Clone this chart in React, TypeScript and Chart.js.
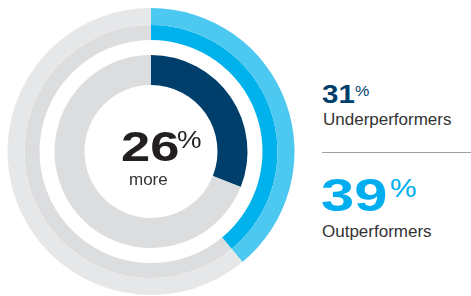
import React, { useEffect, useRef } from "react";
import { Chart, registerables } from "chart.js";

Chart.register(...registerables);

// Data
const outerLabels = ["Outperformers", "Rest"];
const outerValues = [39, 61];
const innerLabels = ["Underperformers", "Rest"];
const innerValues = [31, 69];
const gapValues = [100];
const centerValue = "26";
const centerCaption = "more";
const underValue = "31";
const underLabel = "Underperformers";
const outValue = "39";
const outLabel = "Outperformers";

const FONT = '"Liberation Sans", Arial, Helvetica, sans-serif';

type TProps = {
  text: string;
  left: number;
  baseline: number;
  fs: number;
  color: string;
  bold?: boolean;
  sx?: number;
};

function T({ text, left, baseline, fs, color, bold, sx = 1 }: TProps) {
  return (
    <div
      style={{
        position: "absolute",
        left,
        top: baseline - 0.8465 * fs,
        fontFamily: FONT,
        fontSize: fs,
        lineHeight: 1,
        fontWeight: bold ? 700 : 400,
        color,
        whiteSpace: "nowrap",
        transform: `scaleX(${sx})`,
        transformOrigin: "left top",
      }}
    >
      {text}
    </div>
  );
}

export default function App() {
  const ref = useRef<HTMLCanvasElement | null>(null);

  useEffect(() => {
    if (!ref.current) return;
    const chart = new Chart(ref.current, {
      type: "doughnut",
      data: {
        labels: outerLabels,
        datasets: [
          {
            label: "outer band",
            data: outerValues,
            backgroundColor: ["#4DC8F1", "#E6E7E8"],
            borderWidth: 0,
            weight: 17,
          },
          {
            label: "inner band",
            data: outerValues,
            backgroundColor: ["#00B2EC", "#DCDDDF"],
            borderWidth: 0,
            weight: 15,
          },
          {
            label: "gap",
            data: gapValues,
            backgroundColor: ["rgba(0,0,0,0)"],
            borderWidth: 0,
            weight: 15,
          },
          {
            label: innerLabels[0],
            data: innerValues,
            backgroundColor: ["#003F6B", "#DCDDDF"],
            borderWidth: 0,
            weight: 30,
          },
        ],
      },
      options: {
        responsive: false,
        animation: false,
        events: [],
        radius: 143.5,
        cutout: "46.34%",
        layout: { padding: 0 },
        plugins: {
          legend: { display: false },
          tooltip: { enabled: false },
        },
      },
    });
    return () => chart.destroy();
  }, []);

  return (
    <div
      style={{
        position: "absolute",
        left: 0,
        top: 0,
        width: 471,
        height: 296,
        overflow: "hidden",
        background: "#fff",
      }}
    >
      <canvas
        ref={ref}
        width={302}
        height={303}
        style={{ position: "absolute", left: 0, top: 0, width: 302, height: 303 }}
      />
      <T text={centerValue} left={120.5} baseline={161.5} fs={42} color="#231F20" bold sx={1.25} />
      <T text="%" left={176.5} baseline={148.5} fs={24} color="#231F20" sx={1.15} />
      <T text={centerCaption} left={129} baseline={185} fs={17} color="#333333" />

      <T text={underValue} left={322} baseline={103} fs={25} color="#003F6B" bold sx={1.18} />
      <T text="%" left={355} baseline={95.5} fs={14} color="#003F6B" sx={1.15} />
      <T text={underLabel} left={323} baseline={125} fs={17} color="#333333" />

      <div
        style={{
          position: "absolute",
          left: 322,
          top: 152,
          width: 149,
          height: 1,
          background: "#A0A0A0",
        }}
      />

      <T text={outValue} left={321} baseline={211} fs={47} color="#00AEEF" bold sx={1.27} />
      <T text="%" left={389.5} baseline={197.5} fs={26} color="#00AEEF" sx={1.15} />
      <T text={outLabel} left={322} baseline={237} fs={17} color="#333333" />
    </div>
  );
}
